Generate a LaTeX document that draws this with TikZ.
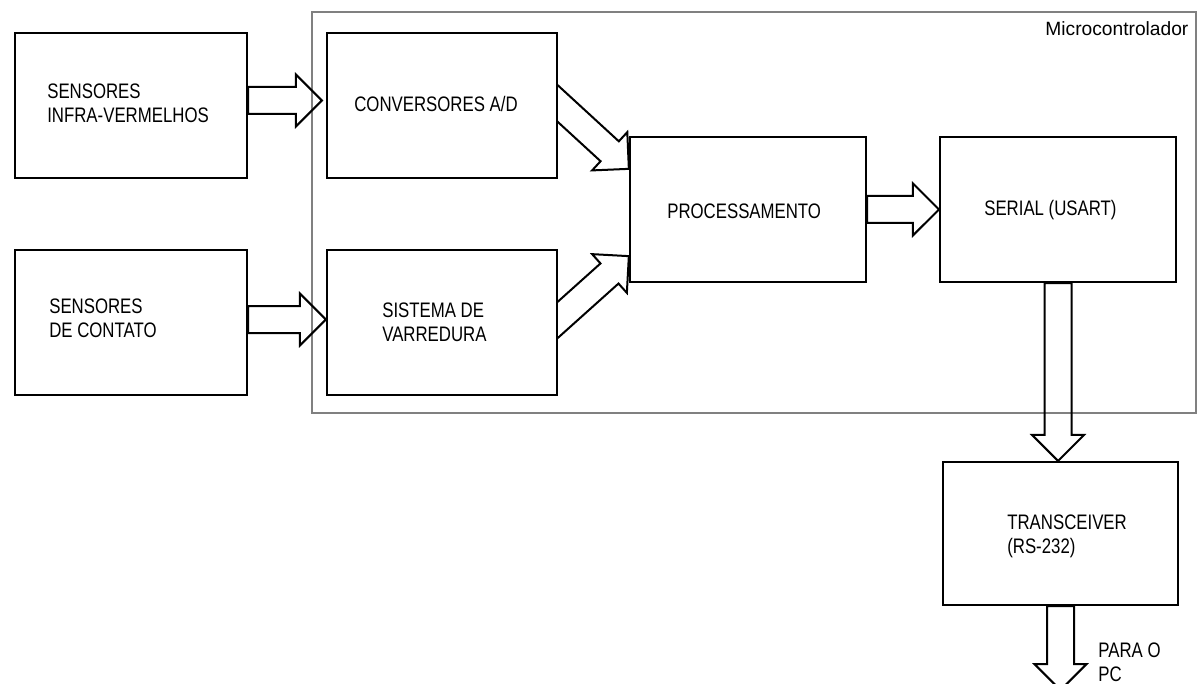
\documentclass[tikz,border=0pt]{standalone}
\usepackage{fontspec}
\setmainfont{Liberation Sans}[FakeStretch=0.8]
\newfontfamily\microfont{Liberation Sans}
\usetikzlibrary{calc}
\usetikzlibrary{positioning}
\usetikzlibrary{shapes.arrows}
\usetikzlibrary{backgrounds}

\tikzset{
  bloco/.style={draw, line width=1.1pt, fill=white, inner sep=0pt,
    minimum width=116pt, minimum height=72.5pt},
  rotulo/.style={anchor=west, align=left, inner sep=0pt,
    font=\fontsize{10.5}{12}\selectfont},
  setabloco/.style={draw, line width=1pt, single arrow, inner xsep=0pt,
    inner ysep=6.25pt, outer sep=0pt, minimum width=25pt,
    single arrow head extend=6.25pt, single arrow tip angle=90},
}
\newcommand{\seta}[2]{%
  \path let \p1=($(#2)-(#1)$), \n1={veclen(\x1,\y1)} in (#1) -- (#2)
    node[setabloco, pos=0, anchor=tail, sloped, allow upside down,
      minimum height=\n1] {};}

\begin{document}
\begin{tikzpicture}[x=0.5pt, y=-0.5pt]
  \clip (0,0) rectangle (1198,684);
  % blocos
  \node[bloco] (ir) at (131,105.5) {};
  \node[bloco] (contato) at (131,322.5) {};
  \node[bloco, minimum width=115pt] (conv) at (442,105.5) {};
  \node[bloco, minimum width=115pt] (sist) at (442,322.5) {};
  \node[bloco, minimum width=118pt] (proc) at (748,209.5) {};
  \node[bloco, minimum width=118pt] (serial) at (1058,209.5) {};
  \node[bloco, minimum width=117.5pt, minimum height=71.5pt] (trans) at (1060.5,533.5) {};
  % textos
  \node[rotulo] (tir) at ($ (ir.west)+(33,-2) $) {SENSORES\\INFRA-VERMELHOS};
  \node[rotulo] (tcontato) at ($ (contato.west)+(35,-4) $) {SENSORES\\DE CONTATO};
  \node[rotulo] (tconv) at ($ (conv.west)+(28,-2) $) {CONVERSORES A/D};
  \node[rotulo] (tsist) at ($ (sist.west)+(56,0) $) {SISTEMA DE\\VARREDURA};
  \node[rotulo] (tproc) at ($ (proc.west)+(38,2) $) {PROCESSAMENTO};
  \node[rotulo] (tserial) at ($ (serial.west)+(45,1) $) {SERIAL (USART)};
  \node[rotulo] (ttrans) at ($ (trans.west)+(65,3) $) {TRANSCEIVER\\(RS-232)};
  \node[rotulo] (tpc) at (1098,662) {PARA O\\PC};
  \node[anchor=west, inner sep=0pt, font=\microfont\fontsize{9.6}{11}\selectfont]
    (tmicro) at (1045,29) {Microcontrolador};
  \coordinate (pc) at ($ (trans.south)+(0,84) $);
  \begin{scope}[on background layer]
    \draw[gray, line width=1pt] (312,12) rectangle (1196,413);
    % setas
    \seta{$ (ir.east)+(0,-5) $}{$ (conv.west)+(-4,-5) $}
    \seta{$ (contato.east)+(0,-3) $}{$ (sist.west)+(0,-3) $}
    \seta{$ (conv.east)+(-20,-20) $}{$ (proc.north west)+(0,33) $}
    \seta{$ (sist.east)+(-20,15) $}{$ (proc.south west)+(0,-27) $}
    \seta{proc.east}{serial.west}
    \seta{serial.south}{serial.south |- trans.north}
    \seta{trans.south}{pc}
  \end{scope}
\end{tikzpicture}
\end{document}
